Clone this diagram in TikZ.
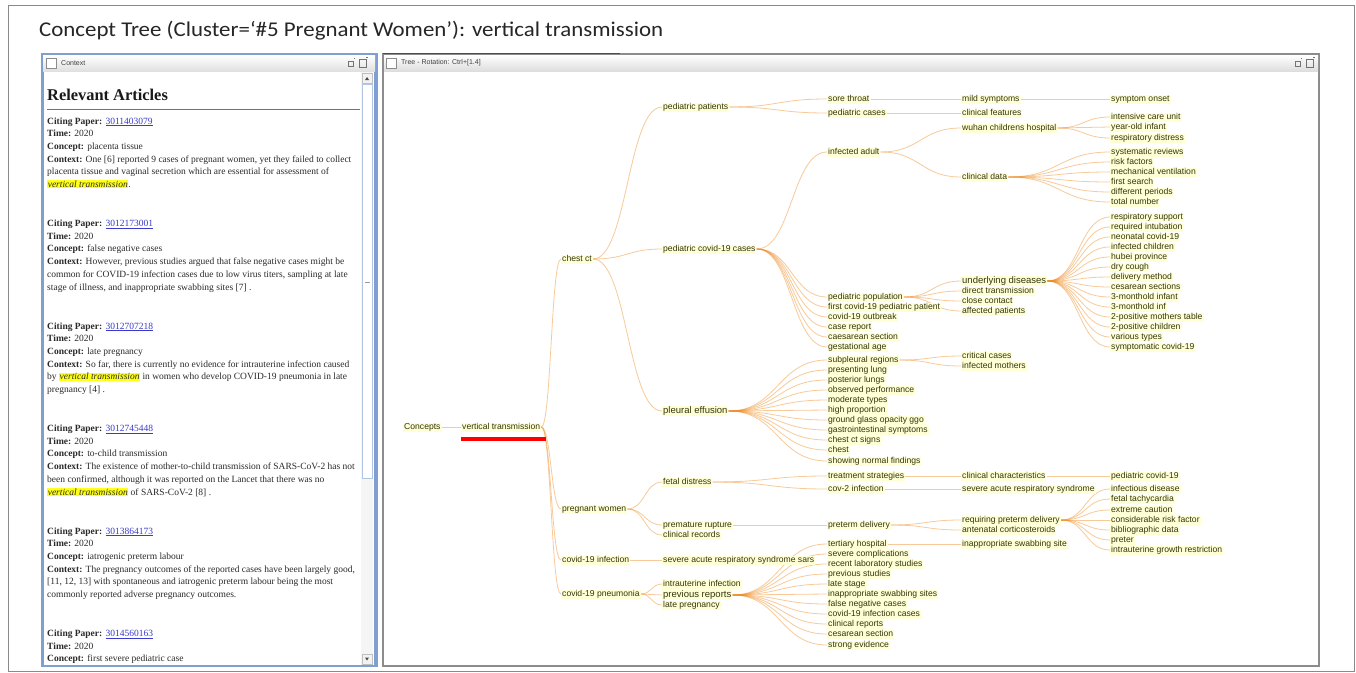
\documentclass[tikz,border=0pt]{standalone}
\usepackage{fontspec}
\setmainfont{Liberation Serif}
\newfontfamily\treefont{Liberation Sans}
\newfontfamily\ttlfont{Carlito}
\usetikzlibrary{calc}
\pgfdeclarelayer{bg}\pgfdeclarelayer{edgel}\pgfsetlayers{bg,edgel,main}
\definecolor{framegray}{HTML}{8A8A8A}
\definecolor{lpblue}{HTML}{7F9FD0}
\definecolor{rpgray}{HTML}{8C8C8C}
\definecolor{lbg}{HTML}{FFFFD6}
\definecolor{ltx}{HTML}{34340F}
\definecolor{edgec}{HTML}{F08A1E}
\definecolor{hly}{HTML}{FFFF1A}
\definecolor{lnk}{HTML}{3A3ACC}
\definecolor{ctxt}{HTML}{2A2A2A}
\newcommand{\lnk}[1]{\textcolor{lnk}{\underline{#1}}}
\newcommand{\hlvt}{{\setlength{\fboxsep}{0.6pt}\colorbox{hly}{\itshape vertical transmission}}}
\newcommand{\tedge}[2]{\draw[tedge] let \p1=(#1.east), \p2=(#2.west) in (\p1) .. controls ($(\x1,\y1)!0.5!(\x2,\y1)$) and ($(\x1,\y2)!0.5!(\x2,\y2)$) .. (\p2);}
\begin{document}
\begin{tikzpicture}[x=1pt,y=-1pt,
  tl/.style={font=\treefont\fontsize{8.6}{9}\selectfont, anchor=west, fill=lbg, text=ltx, inner xsep=1pt, inner ysep=0.5pt, text height=6.2pt, text depth=1.8pt},
  tlb/.style={tl, font=\treefont\fontsize{9.5}{10}\selectfont, text height=6.9pt, text depth=2pt},
  tedge/.style={draw=edgec, draw opacity=0.45, line width=0.8pt},
  ctx/.style={anchor=base west, inner sep=0pt, font=\fontsize{9.5}{11}\selectfont, text=ctxt},
  bar/.style={anchor=west, inner sep=0pt, font=\treefont\fontsize{7}{8}\selectfont, text=black!75},
  chk/.style={draw=black!45, fill=white, line width=0.6pt},
  ico/.style={draw=black!55, line width=0.6pt}
]
\useasboundingbox (0,0) rectangle (1356,672);
\begin{pgfonlayer}{bg}
\fill[white] (0,0) rectangle (1356,672);
\draw[framegray, line width=1pt] (8,5) rectangle (1354,671);
% left panel
\fill[lpblue] (41,53) rectangle (378,667);
\shade[top color=white, bottom color=black!12] (43,55) rectangle (375,71);
\fill[white] (44,72) rectangle (374,665);
\fill[black!4] (361,72) rectangle (373,665);
\draw[lpblue!60, fill=white] (362,84) rectangle (372,478);
\draw[black!40] (364.5,282) -- (369.5,282);
\draw[black!25, fill=black!5] (362,73) rectangle (372,83);
\draw[black!25, fill=black!5] (362,654) rectangle (372,664);
\fill[black!70] (365,80) -- (369,80) -- (367,77) -- cycle;
\fill[black!70] (365,657.5) -- (369,657.5) -- (367,660.5) -- cycle;
% right panel
\fill[rpgray] (382,53) rectangle (1320,667);
\draw[black!70, line width=1.2pt] (383,53.5) -- (620,53.5);
\shade[top color=white, bottom color=black!14] (384,55) rectangle (1318,72);
\fill[white] (384,72) rectangle (1318,665);
\end{pgfonlayer}
% window chrome
\node[anchor=west, inner sep=0pt, font=\ttlfont\fontsize{21}{24}\selectfont, text=black!85] (title) at (39,31) {\scalebox{1.09}[1]{Concept Tree (Cluster=‘\#5 Pregnant Women’): vertical transmission}};
\draw[chk] (46,58) rectangle (56,68);
\node[bar] (ctxtitle) at (61,63) {Context};
\draw[chk] (386,58) rectangle (396,68);
\node[bar] (treetitle) at (401,63) {Tree - Rotation: Ctrl+[1.4]};
\draw[ico] (348,61) rectangle (353,66); \draw[ico] (354,58) -- (355,58);
\draw[ico] (359,59) rectangle (366,67); \draw[ico] (366,57.5) -- (367.5,57.5);
\draw[ico] (1295,61) rectangle (1300,66); \draw[ico] (1301,58) -- (1302,58);
\draw[ico] (1306,59) rectangle (1313,67); \draw[ico] (1313,57.5) -- (1314.5,57.5);
% left panel text
\node[anchor=base west, inner sep=0pt, font=\bfseries\fontsize{16.4}{18}\selectfont, text=black!90] (relart) at (47,100.5) {Relevant Articles};
\draw[black!55, line width=1pt] (47,109) -- (360,109);
\foreach \t [count=\i from 0] in {{\textbf{Citing Paper:} \lnk{3011403079}},{\textbf{Time:} 2020},{\textbf{Concept:} placenta tissue},{\textbf{Context:} One [6] reported 9 cases of pregnant women, yet they failed to collect},{placenta tissue and vaginal secretion which are essential for assessment of},{\hlvt.}}
  \node[ctx] (ba\i) at (47,124+\i*12.7) {\t};
\foreach \t [count=\i from 0] in {{\textbf{Citing Paper:} \lnk{3012173001}},{\textbf{Time:} 2020},{\textbf{Concept:} false negative cases},{\textbf{Context:} However, previous studies argued that false negative cases might be},{common for COVID-19 infection cases due to low virus titers, sampling at late},{stage of illness, and inappropriate swabbing sites [7] .}}
  \node[ctx] (bb\i) at (47,226.5+\i*12.7) {\t};
\foreach \t [count=\i from 0] in {{\textbf{Citing Paper:} \lnk{3012707218}},{\textbf{Time:} 2020},{\textbf{Concept:} late pregnancy},{\textbf{Context:} So far, there is currently no evidence for intrauterine infection caused},{by \hlvt\ in women who develop COVID-19 pneumonia in late},{pregnancy [4] .}}
  \node[ctx] (bc\i) at (47,329+\i*12.7) {\t};
\foreach \t [count=\i from 0] in {{\textbf{Citing Paper:} \lnk{3012745448}},{\textbf{Time:} 2020},{\textbf{Concept:} to-child transmission},{\textbf{Context:} The existence of mother-to-child transmission of SARS-CoV-2 has not},{been confirmed, although it was reported on the Lancet that there was no},{\hlvt\ of SARS-CoV-2 [8] .}}
  \node[ctx] (bd\i) at (47,431.5+\i*12.7) {\t};
\foreach \t [count=\i from 0] in {{\textbf{Citing Paper:} \lnk{3013864173}},{\textbf{Time:} 2020},{\textbf{Concept:} iatrogenic preterm labour},{\textbf{Context:} The pregnancy outcomes of the reported cases have been largely good,},{[11, 12, 13] with spontaneous and iatrogenic preterm labour being the most},{commonly reported adverse pregnancy outcomes.}}
  \node[ctx] (be\i) at (47,534+\i*12.7) {\t};
\foreach \t [count=\i from 0] in {{\textbf{Citing Paper:} \lnk{3014560163}},{\textbf{Time:} 2020},{\textbf{Concept:} first severe pediatric case}}
  \node[ctx] (bf\i) at (47,636.5+\i*12.7) {\t};
% tree nodes
\node[tl] (concepts) at (403,427) {Concepts};
\node[tl] (vt) at (461,427) {vertical transmission};
\fill[red] (461,437.3) rectangle (546,440.7);
\node[tl] (chestct) at (561,259) {chest ct};
\node[tl] (pregnant) at (561,509) {pregnant women};
\node[tl] (c19inf) at (561,560) {covid-19 infection};
\node[tl] (c19pn) at (561,594) {covid-19 pneumonia};
\node[tl] (pedpat) at (662,107) {pediatric patients};
\node[tl] (pedc19) at (662,249) {pediatric covid-19 cases};
\node[tlb] (pleural) at (662,411) {pleural effusion};
\node[tl] (fetal) at (662,482) {fetal distress};
\node[tl] (premrup) at (662,525) {premature rupture};
\node[tl] (clinrec) at (662,535) {clinical records};
\node[tl] (sars) at (662,560) {severe acute respiratory syndrome sars};
\node[tl] (intrau) at (662,584) {intrauterine infection};
\node[tlb] (prevrep) at (662,595) {previous reports};
\node[tl] (latepreg) at (662,605) {late pregnancy};
\node[tl] (sore) at (827,99) {sore throat};
\node[tl] (pedcases) at (827,113) {pediatric cases};
\node[tl] (infadult) at (827,152) {infected adult};
\node[tl] (pedpop) at (827,297) {pediatric population};
\node[tl] (firstc19) at (827,307) {first covid-19 pediatric patient};
\node[tl] (outbreak) at (827,317) {covid-19 outbreak};
\node[tl] (casereport) at (827,327) {case report};
\node[tl] (caesarean) at (827,337) {caesarean section};
\node[tl] (gestational) at (827,347) {gestational age};
\node[tl] (subpleural) at (827,360) {subpleural regions};
\node[tl] (presenting) at (827,370) {presenting lung};
\node[tl] (posterior) at (827,380) {posterior lungs};
\node[tl] (observed) at (827,390) {observed performance};
\node[tl] (moderate) at (827,400) {moderate types};
\node[tl] (highprop) at (827,410) {high proportion};
\node[tl] (ggo) at (827,420) {ground glass opacity ggo};
\node[tl] (gastro) at (827,430) {gastrointestinal symptoms};
\node[tl] (ctsigns) at (827,440) {chest ct signs};
\node[tl] (chestn) at (827,450) {chest};
\node[tl] (normal) at (827,461) {showing normal findings};
\node[tl] (treatment) at (827,476) {treatment strategies};
\node[tl] (cov2) at (827,489) {cov-2 infection};
\node[tl] (pretermdel) at (827,525) {preterm delivery};
\node[tl] (tertiary) at (827,544) {tertiary hospital};
\node[tl] (severecomp) at (827,554) {severe complications};
\node[tl] (recentlab) at (827,564) {recent laboratory studies};
\node[tl] (prevstud) at (827,574) {previous studies};
\node[tl] (latestage) at (827,584) {late stage};
\node[tl] (inappsites) at (827,594) {inappropriate swabbing sites};
\node[tl] (falseneg) at (827,604) {false negative cases};
\node[tl] (c19cases) at (827,614) {covid-19 infection cases};
\node[tl] (clinrep) at (827,624) {clinical reports};
\node[tl] (cesarean) at (827,634) {cesarean section};
\node[tl] (strong) at (827,645) {strong evidence};
\node[tl] (mild) at (961,99) {mild symptoms};
\node[tl] (clinfeat) at (961,113) {clinical features};
\node[tl] (wuhan) at (961,128) {wuhan childrens hospital};
\node[tl] (clindata) at (961,177) {clinical data};
\node[tlb] (underlying) at (961,281) {underlying diseases};
\node[tl] (direct) at (961,291) {direct transmission};
\node[tl] (closec) at (961,301) {close contact};
\node[tl] (affected) at (961,311) {affected patients};
\node[tl] (critical) at (961,356) {critical cases};
\node[tl] (infmothers) at (961,366) {infected mothers};
\node[tl] (clinchar) at (961,476) {clinical characteristics};
\node[tl] (sarsrs) at (961,489) {severe acute respiratory syndrome};
\node[tl] (requiring) at (961,520) {requiring preterm delivery};
\node[tl] (antenatal) at (961,530) {antenatal corticosteroids};
\node[tl] (inappsite) at (961,544) {inappropriate swabbing site};
\node[tl] (onset) at (1110,99) {symptom onset};
\node[tl] (icu) at (1110,117) {intensive care unit};
\node[tl] (yearold) at (1110,127) {year-old infant};
\node[tl] (respdist) at (1110,138) {respiratory distress};
\node[tl] (sysrev) at (1110,152) {systematic reviews};
\node[tl] (risk) at (1110,162) {risk factors};
\node[tl] (mechvent) at (1110,172) {mechanical ventilation};
\node[tl] (firstsearch) at (1110,182) {first search};
\node[tl] (diffper) at (1110,192) {different periods};
\node[tl] (total) at (1110,202) {total number};
\node[tl] (u1) at (1110,217) {respiratory support};
\node[tl] (u2) at (1110,227) {required intubation};
\node[tl] (u3) at (1110,237) {neonatal covid-19};
\node[tl] (u4) at (1110,247) {infected children};
\node[tl] (u5) at (1110,257) {hubei province};
\node[tl] (u6) at (1110,267) {dry cough};
\node[tl] (u7) at (1110,277) {delivery method};
\node[tl] (u8) at (1110,287) {cesarean sections};
\node[tl] (u9) at (1110,297) {3-monthold infant};
\node[tl] (u10) at (1110,307) {3-monthold inf};
\node[tl] (u11) at (1110,317) {2-positive mothers table};
\node[tl] (u12) at (1110,327) {2-positive children};
\node[tl] (u13) at (1110,337) {various types};
\node[tl] (u14) at (1110,347) {symptomatic covid-19};
\node[tl] (pedc19b) at (1110,476) {pediatric covid-19};
\node[tl] (infectious) at (1110,489) {infectious disease};
\node[tl] (tachy) at (1110,499) {fetal tachycardia};
\node[tl] (extreme) at (1110,510) {extreme caution};
\node[tl] (considerable) at (1110,520) {considerable risk factor};
\node[tl] (biblio) at (1110,530) {bibliographic data};
\node[tl] (preter) at (1110,540) {preter};
\node[tl] (iugr) at (1110,550) {intrauterine growth restriction};
% edges
\begin{pgfonlayer}{edgel}
\tedge{concepts}{vt}
\foreach \c in {chestct,pregnant,c19inf,c19pn} {\tedge{vt}{\c}}
\foreach \c in {pedpat,pedc19,pleural} {\tedge{chestct}{\c}}
\foreach \c in {sore,pedcases} {\tedge{pedpat}{\c}}
\tedge{sore}{mild}
\tedge{mild}{onset}
\tedge{pedcases}{clinfeat}
\foreach \c in {infadult,pedpop,firstc19,outbreak,casereport,caesarean,gestational} {\tedge{pedc19}{\c}}
\foreach \c in {wuhan,clindata} {\tedge{infadult}{\c}}
\foreach \c in {icu,yearold,respdist} {\tedge{wuhan}{\c}}
\foreach \c in {sysrev,risk,mechvent,firstsearch,diffper,total} {\tedge{clindata}{\c}}
\foreach \c in {underlying,direct,closec,affected} {\tedge{pedpop}{\c}}
\foreach \c in {u1,u2,u3,u4,u5,u6,u7,u8,u9,u10,u11,u12,u13,u14} {\tedge{underlying}{\c}}
\foreach \c in {subpleural,presenting,posterior,observed,moderate,highprop,ggo,gastro,ctsigns,chestn,normal} {\tedge{pleural}{\c}}
\foreach \c in {critical,infmothers} {\tedge{subpleural}{\c}}
\foreach \c in {fetal,premrup,clinrec} {\tedge{pregnant}{\c}}
\foreach \c in {treatment,cov2} {\tedge{fetal}{\c}}
\tedge{treatment}{clinchar}
\tedge{clinchar}{pedc19b}
\tedge{cov2}{sarsrs}
\tedge{premrup}{pretermdel}
\foreach \c in {requiring,antenatal} {\tedge{pretermdel}{\c}}
\foreach \c in {infectious,tachy,extreme,considerable,biblio,preter,iugr} {\tedge{requiring}{\c}}
\tedge{c19inf}{sars}
\foreach \c in {intrau,prevrep,latepreg} {\tedge{c19pn}{\c}}
\foreach \c in {tertiary,severecomp,recentlab,prevstud,latestage,inappsites,falseneg,c19cases,clinrep,cesarean,strong} {\tedge{prevrep}{\c}}
\tedge{tertiary}{inappsite}
\end{pgfonlayer}
\end{tikzpicture}
\end{document}
